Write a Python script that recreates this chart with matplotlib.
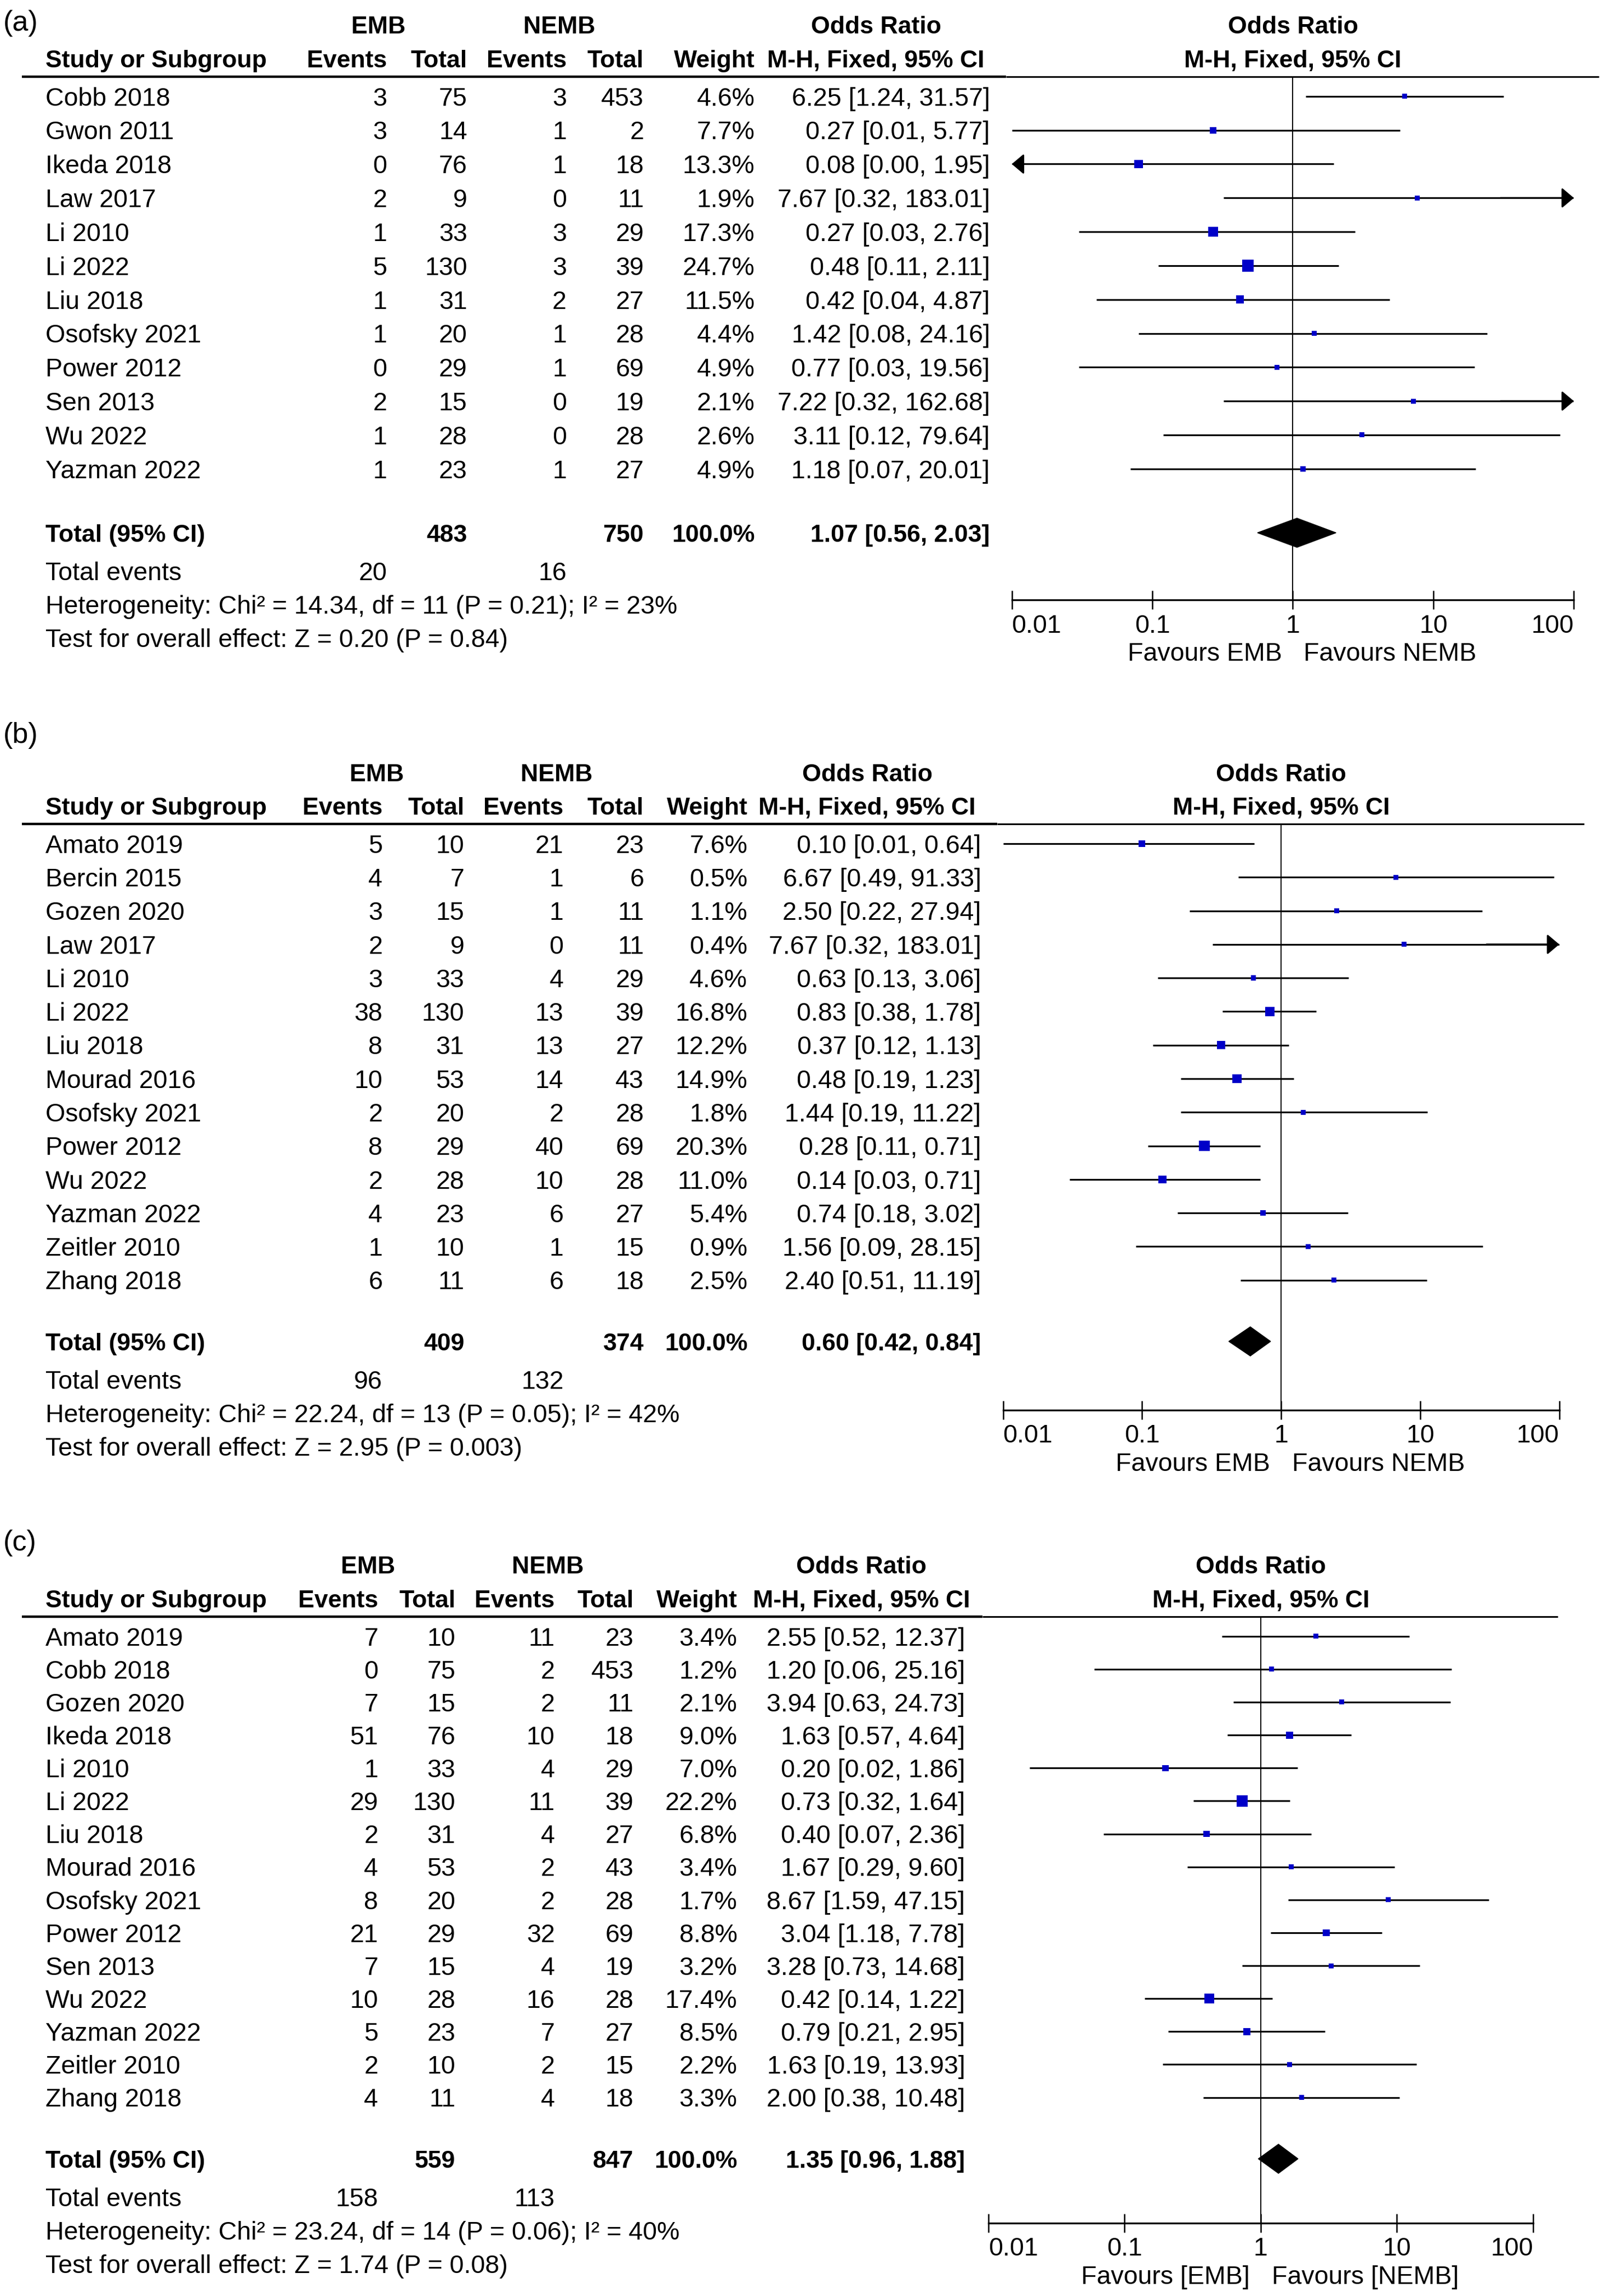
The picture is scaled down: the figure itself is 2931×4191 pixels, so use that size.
import numpy as np
import matplotlib.pyplot as plt

plt.rcParams['font.family'] = ['Liberation Sans', 'DejaVu Sans']

# ---------------- data ----------------
# (a)
studies_a = ['Cobb 2018', 'Gwon 2011', 'Ikeda 2018', 'Law 2017', 'Li 2010', 'Li 2022', 'Liu 2018',
             'Osofsky 2021', 'Power 2012', 'Sen 2013', 'Wu 2022', 'Yazman 2022']
emb_ev_a = [3, 3, 0, 2, 1, 5, 1, 1, 0, 2, 1, 1]
emb_tot_a = [75, 14, 76, 9, 33, 130, 31, 20, 29, 15, 28, 23]
nemb_ev_a = [3, 1, 1, 0, 3, 3, 2, 1, 1, 0, 0, 1]
nemb_tot_a = [453, 2, 18, 11, 29, 39, 27, 28, 69, 19, 28, 27]
weight_a = [4.6, 7.7, 13.3, 1.9, 17.3, 24.7, 11.5, 4.4, 4.9, 2.1, 2.6, 4.9]
or_a = [6.25, 0.27, 0.08, 7.67, 0.27, 0.48, 0.42, 1.42, 0.77, 7.22, 3.11, 1.18]
lo_a = [1.24, 0.01, 0.00, 0.32, 0.03, 0.11, 0.04, 0.08, 0.03, 0.32, 0.12, 0.07]
hi_a = [31.57, 5.77, 1.95, 183.01, 2.76, 2.11, 4.87, 24.16, 19.56, 162.68, 79.64, 20.01]
total_a = [483, 750, 1.07, 0.56, 2.03]
events_a = [20, 16]
het_a = 'Heterogeneity: Chi² = 14.34, df = 11 (P = 0.21); I² = 23%'
test_a = 'Test for overall effect: Z = 0.20 (P = 0.84)'

# (b)
studies_b = ['Amato 2019', 'Bercin 2015', 'Gozen 2020', 'Law 2017', 'Li 2010', 'Li 2022', 'Liu 2018',
             'Mourad 2016', 'Osofsky 2021', 'Power 2012', 'Wu 2022', 'Yazman 2022', 'Zeitler 2010', 'Zhang 2018']
emb_ev_b = [5, 4, 3, 2, 3, 38, 8, 10, 2, 8, 2, 4, 1, 6]
emb_tot_b = [10, 7, 15, 9, 33, 130, 31, 53, 20, 29, 28, 23, 10, 11]
nemb_ev_b = [21, 1, 1, 0, 4, 13, 13, 14, 2, 40, 10, 6, 1, 6]
nemb_tot_b = [23, 6, 11, 11, 29, 39, 27, 43, 28, 69, 28, 27, 15, 18]
weight_b = [7.6, 0.5, 1.1, 0.4, 4.6, 16.8, 12.2, 14.9, 1.8, 20.3, 11.0, 5.4, 0.9, 2.5]
or_b = [0.10, 6.67, 2.50, 7.67, 0.63, 0.83, 0.37, 0.48, 1.44, 0.28, 0.14, 0.74, 1.56, 2.40]
lo_b = [0.01, 0.49, 0.22, 0.32, 0.13, 0.38, 0.12, 0.19, 0.19, 0.11, 0.03, 0.18, 0.09, 0.51]
hi_b = [0.64, 91.33, 27.94, 183.01, 3.06, 1.78, 1.13, 1.23, 11.22, 0.71, 0.71, 3.02, 28.15, 11.19]
total_b = [409, 374, 0.60, 0.42, 0.84]
events_b = [96, 132]
het_b = 'Heterogeneity: Chi² = 22.24, df = 13 (P = 0.05); I² = 42%'
test_b = 'Test for overall effect: Z = 2.95 (P = 0.003)'

# (c)
studies_c = ['Amato 2019', 'Cobb 2018', 'Gozen 2020', 'Ikeda 2018', 'Li 2010', 'Li 2022', 'Liu 2018',
             'Mourad 2016', 'Osofsky 2021', 'Power 2012', 'Sen 2013', 'Wu 2022', 'Yazman 2022',
             'Zeitler 2010', 'Zhang 2018']
emb_ev_c = [7, 0, 7, 51, 1, 29, 2, 4, 8, 21, 7, 10, 5, 2, 4]
emb_tot_c = [10, 75, 15, 76, 33, 130, 31, 53, 20, 29, 15, 28, 23, 10, 11]
nemb_ev_c = [11, 2, 2, 10, 4, 11, 4, 2, 2, 32, 4, 16, 7, 2, 4]
nemb_tot_c = [23, 453, 11, 18, 29, 39, 27, 43, 28, 69, 19, 28, 27, 15, 18]
weight_c = [3.4, 1.2, 2.1, 9.0, 7.0, 22.2, 6.8, 3.4, 1.7, 8.8, 3.2, 17.4, 8.5, 2.2, 3.3]
or_c = [2.55, 1.20, 3.94, 1.63, 0.20, 0.73, 0.40, 1.67, 8.67, 3.04, 3.28, 0.42, 0.79, 1.63, 2.00]
lo_c = [0.52, 0.06, 0.63, 0.57, 0.02, 0.32, 0.07, 0.29, 1.59, 1.18, 0.73, 0.14, 0.21, 0.19, 0.38]
hi_c = [12.37, 25.16, 24.73, 4.64, 1.86, 1.64, 2.36, 9.60, 47.15, 7.78, 14.68, 1.22, 2.95, 13.93, 10.48]
total_c = [559, 847, 1.35, 0.96, 1.88]
events_c = [158, 113]
het_c = 'Heterogeneity: Chi² = 23.24, df = 14 (P = 0.06); I² = 40%'
test_c = 'Test for overall effect: Z = 1.74 (P = 0.08)'

ticks = [0.01, 0.1, 1, 10, 100]
tick_labels = ['0.01', '0.1', '1', '10', '100']

# layout in units of the 1100 x 1573 reference
W, H = 1100, 1573
FS = 33.5
BLUE = '#0000c8'
DY = 6.3   # y given as visual centre of the caps, draw on baseline

fig = plt.figure(figsize=(29.31, 41.91), dpi=100)
base = fig.add_axes([0, 0, 1, 1])
base.set_xlim(0, W)
base.set_ylim(H, 0)
base.axis('off')


def txt(x, y, s, ha='right', bold=False, size=FS):
    if bold:
        size = size * 0.96
    base.text(x, y + DY * size / FS, s, ha=ha, va='baseline', fontsize=size,
              fontweight='bold' if bold else 'normal')


def draw_panel(label, label_y, studies, ev1, tot1, ev2, tot2, wt, orv, lo, hi, total, events, het, test,
               fav, top, row0, step, tot_y, axis_y, xlo, xhi, cols, grp):
    h1, h2, line_y = top, top + 23, top + 35.5
    base.text(2, label_y + 2, label, ha='left', va='center', fontsize=FS * 1.12)
    # group headers
    txt(grp[0], h1, 'EMB', ha='center', bold=True)
    txt(grp[1], h1, 'NEMB', ha='center', bold=True)
    txt(grp[2], h1, 'Odds Ratio', ha='center', bold=True)
    xmid = (xlo + xhi) / 2
    txt(xmid, h1, 'Odds Ratio', ha='center', bold=True)
    txt(cols[0], h2, 'Study or Subgroup', ha='left', bold=True)
    for x, s in zip(cols[1:6], ['Events', 'Total', 'Events', 'Total', 'Weight']):
        txt(x, h2, s, bold=True)
    txt(grp[2], h2, 'M-H, Fixed, 95% CI', ha='center', bold=True)
    txt(xmid, h2, 'M-H, Fixed, 95% CI', ha='center', bold=True)
    base.plot([15, xlo - 4], [line_y, line_y], color='black', lw=3.2, solid_capstyle='butt')
    base.plot([xlo - 4, xhi + 17], [line_y, line_y], color='black', lw=2.2, solid_capstyle='butt')

    ys = [row0 + i * step for i in range(len(studies))]
    for i, y in enumerate(ys):
        txt(cols[0], y, studies[i], ha='left')
        txt(cols[1], y, str(ev1[i]))
        txt(cols[2], y, str(tot1[i]))
        txt(cols[3], y, str(ev2[i]))
        txt(cols[4], y, str(tot2[i]))
        txt(cols[5], y, f'{wt[i]:.1f}%')
        txt(cols[6], y, f'{orv[i]:.2f} [{lo[i]:.2f}, {hi[i]:.2f}]')

    txt(cols[0], tot_y, 'Total (95% CI)', ha='left', bold=True)
    txt(cols[2], tot_y, str(total[0]), bold=True)
    txt(cols[4], tot_y, str(total[1]), bold=True)
    txt(cols[5], tot_y, '100.0%', bold=True)
    txt(cols[6], tot_y, f'{total[2]:.2f} [{total[3]:.2f}, {total[4]:.2f}]', bold=True)
    txt(cols[0], tot_y + 26, 'Total events', ha='left')
    txt(cols[1], tot_y + 26, str(events[0]))
    txt(cols[3], tot_y + 26, str(events[1]))
    txt(cols[0], tot_y + 49, het, ha='left')
    txt(cols[0], tot_y + 72, test, ha='left')

    # forest part
    ax = fig.add_axes([xlo / W, 1 - axis_y / H, (xhi - xlo) / W, (axis_y - line_y) / H])
    ax.set_xscale('log')
    ax.set_xlim(0.01, 100)
    ax.set_ylim(axis_y, line_y)
    ax.patch.set_alpha(0)
    for s in ['top', 'left', 'right']:
        ax.spines[s].set_visible(False)
    ax.spines['bottom'].set_linewidth(2.4)
    ax.set_yticks([])
    ax.set_xticks(ticks)
    ax.set_xticklabels(tick_labels)
    ax.minorticks_off()
    ax.tick_params(axis='x', direction='inout', length=25, width=1.8, pad=6, labelsize=FS)
    tl = ax.get_xticklabels()
    tl[0].set_horizontalalignment('left')
    tl[-1].set_horizontalalignment('right')
    ax.axvline(1, color='black', lw=1.5)

    head = dict(arrowstyle='-|>,head_length=0.45,head_width=0.38', mutation_scale=30,
                color='black', lw=2.2, shrinkA=0, shrinkB=0)
    for i, y in enumerate(ys):
        a = max(lo[i], 0.01)
        b = min(hi[i], 100)
        ax.plot([a, b], [y, y], color='black', lw=2.3, solid_capstyle='butt')
        if hi[i] > 100:
            ax.annotate('', xy=(100, y), xytext=(30, y), annotation_clip=False, arrowprops=head)
        if lo[i] < 0.01:
            ax.annotate('', xy=(0.01, y), xytext=(0.03, y), annotation_clip=False, arrowprops=head)
    side = np.maximum(9, 4.3 * np.sqrt(wt)) * 0.72
    ax.scatter(orv, ys, marker='s', s=side ** 2, color=BLUE, linewidths=0, zorder=3)
    dh = 10
    ax.fill([total[3], total[2], total[4], total[2]], [tot_y, tot_y - dh, tot_y, tot_y + dh],
            color='black', zorder=3)

    fy = axis_y + 35.5
    txt(xmid - 7.5, fy, fav[0])
    txt(xmid + 7.5, fy, fav[1], ha='left')


draw_panel('(a)', 14, studies_a, emb_ev_a, emb_tot_a, nemb_ev_a, nemb_tot_a, weight_a, or_a, lo_a, hi_a,
           total_a, events_a, het_a, test_a, ['Favours EMB', 'Favours NEMB'],
           top=17, row0=66, step=23.2, tot_y=365, axis_y=411, xlo=693, xhi=1078,
           cols=[31, 265, 320, 388, 441, 517, 678], grp=[259, 383, 600])
draw_panel('(b)', 502, studies_b, emb_ev_b, emb_tot_b, nemb_ev_b, nemb_tot_b, weight_b, or_b, lo_b, hi_b,
           total_b, events_b, het_b, test_b, ['Favours EMB', 'Favours NEMB'],
           top=529, row0=578, step=23.0, tot_y=919, axis_y=966, xlo=687, xhi=1068,
           cols=[31, 262, 318, 386, 441, 512, 672], grp=[258, 381, 594])
draw_panel('(c)', 1055, studies_c, emb_ev_c, emb_tot_c, nemb_ev_c, nemb_tot_c, weight_c, or_c, lo_c, hi_c,
           total_c, events_c, het_c, test_c, ['Favours [EMB]', 'Favours [NEMB]'],
           top=1072, row0=1121, step=22.57, tot_y=1479, axis_y=1523, xlo=677, xhi=1050,
           cols=[31, 259, 312, 380, 434, 505, 661], grp=[252, 375, 590])

fig.savefig('out.png', dpi=100)
